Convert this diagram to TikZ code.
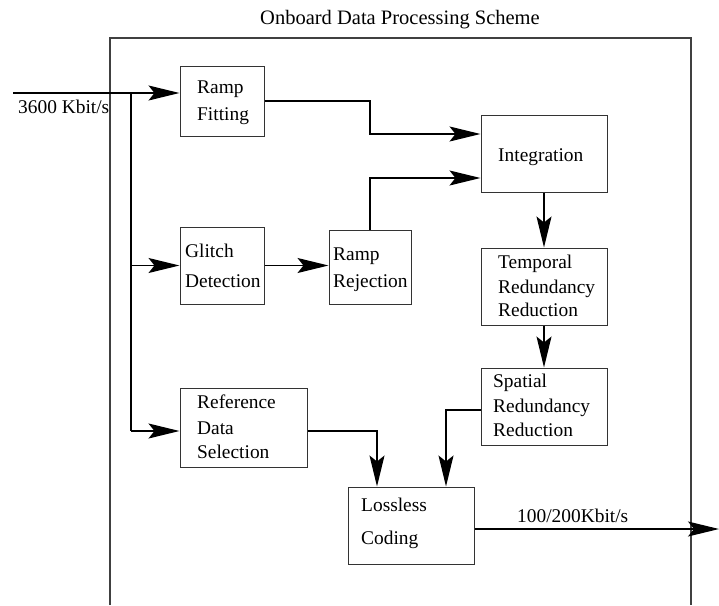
\documentclass[tikz,border=0pt]{standalone}
\usepackage{fontspec}
\setmainfont{Liberation Serif}
\usetikzlibrary{arrows.meta}
\begin{document}
\begin{tikzpicture}[x=1pt,y=-1pt,
  box/.style={draw=black!80,line width=1pt,minimum width=#1,inner sep=0pt},
  lbl/.style={anchor=base west,inner sep=0pt,font=\fontsize{19.4}{23}\selectfont},
  link/.style={draw=black,line width=1.3pt},
  arr/.style={link,-{Stealth[length=31pt,width=15pt,inset=6pt]}}]
\useasboundingbox (0,0) rectangle (719,605);

% outer frame, open at the bottom
\draw[draw=black!75,line width=1.6pt] (110,605) -- (110,38) -- (691,38) -- (691,605);
\node[lbl,anchor=base,font=\fontsize{20.5}{24}\selectfont] (title) at (400,24) {Onboard Data Processing Scheme};

% processing blocks
\node[box=84pt,minimum height=70pt]  (rf)    at (222,101)   {};
\node[box=126pt,minimum height=77pt] (integ) at (544,153.5) {};
\node[box=84pt,minimum height=77pt]  (gd)    at (222,265.5) {};
\node[box=82pt,minimum height=74pt]  (rr)    at (370,267)   {};
\node[box=126pt,minimum height=77pt] (trr)   at (544,286.5) {};
\node[box=126pt,minimum height=77pt] (srr)   at (544,406.5) {};
\node[box=127pt,minimum height=79pt] (rds)   at (243.5,427.5) {};
\node[box=126pt,minimum height=77pt] (lc)    at (411,525.5) {};

% block texts
\node[lbl] (rf1) at (197,93)  {Ramp};
\node[lbl] (rf2) at (197,120) {Fitting};
\node[lbl] (in1) at (498,161) {Integration};
\node[lbl] (gd1) at (185,257) {Glitch};
\node[lbl] (gd2) at (185,287) {Detection};
\node[lbl] (rr1) at (333,260) {Ramp};
\node[lbl] (rr2) at (333,287) {Rejection};
\node[lbl] (tr1) at (498,268) {Temporal};
\node[lbl] (tr2) at (498,293) {Redundancy};
\node[lbl] (tr3) at (498,316) {Reduction};
\node[lbl] (sr1) at (493,387) {Spatial};
\node[lbl] (sr2) at (493,412) {Redundancy};
\node[lbl] (sr3) at (493,436) {Reduction};
\node[lbl] (rd1) at (197,408) {Reference};
\node[lbl] (rd2) at (197,434) {Data};
\node[lbl] (rd3) at (197,458) {Selection};
\node[lbl] (lc1) at (361,511) {Lossless};
\node[lbl] (lc2) at (361,544) {Coding};

% rate labels
\node[lbl] (rin)  at (18,113)  {3600 Kbit/s};
\node[lbl] (rout) at (517,522) {100/200Kbit/s};

% connector end and bend points
\coordinate (in)  at (13,93);
\coordinate (tr)  at (131,93);
\coordinate (tb)  at (131,431);
\coordinate (k1)  at (370,134);
\coordinate (k2)  at (370,178);
\coordinate (k3)  at (446,410);
\coordinate (k4)  at (377,431);
\coordinate (out) at (719,529);

% input and distribution trunk
\draw[arr] (in) -- (in -| rf.west);
\draw[link] (tr) -- (tb);
\draw[arr] (tr |- gd.west) -- (gd.west);
\draw[arr] (tb) -- (tb -| rds.west);

% data flow
\draw[arr] (gd.east) -- (gd.east -| rr.west);
\draw[arr] (rf.east) -| (k1) -- (k1 -| integ.west);
\draw[arr] (rr.north) -- (k2) -- (k2 -| integ.west);
\draw[arr] (integ.south) -- (trr.north);
\draw[arr] (trr.south) -- (srr.north);
\draw[arr] (srr.west |- k3) -- (k3) -- (k3 |- lc.north);
\draw[arr] (rds.east |- k4) -- (k4) -- (k4 |- lc.north);
\draw[arr] (lc.east |- out) -- (out);
\end{tikzpicture}
\end{document}
